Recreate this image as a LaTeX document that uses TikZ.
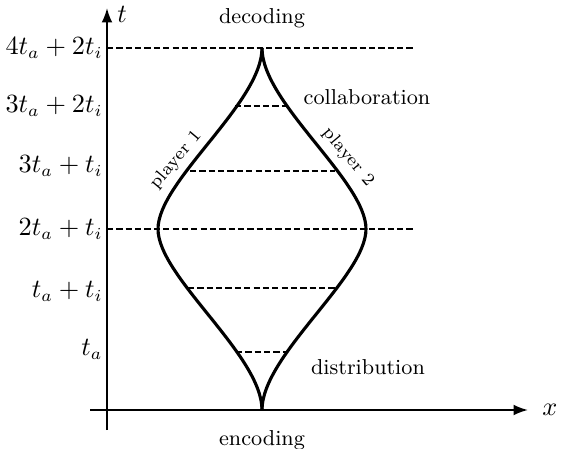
\documentclass[tikz,border=0pt]{standalone}
\usetikzlibrary{arrows.meta}
\begin{document}
\begin{tikzpicture}[x=0.4167pt,y=-0.4167pt,
  axis/.style={thick,-{Latex[length=6pt,width=4.5pt]}},
  curve/.style={line width=1.3pt},
  dsh/.style={line width=0.45pt,dash pattern=on 2.6pt off 1.3pt},
  lbl/.style={anchor=east,inner sep=0pt,font=\fontsize{10.5}{13}\selectfont},
  mth/.style={inner sep=0pt,font=\fontsize{10.8}{13}\selectfont},
  txt/.style={inner sep=0pt,font=\small},
  ply/.style={inner sep=0pt,font=\fontsize{7.4}{9}\selectfont}]
\useasboundingbox (0,0) rectangle (565,449);
% axes
\coordinate (yb) at (107,430);
\coordinate (yt) at (107,8);
\coordinate (xl) at (90,410);
\coordinate (xr) at (528,410);
\draw[axis] (yb) -- (yt);
\draw[axis] (xl) -- (xr);
\node[mth] (tl) at (122,14) {$t$};
\node[mth] (xlab) at (550,410) {$x$};
% key points
\coordinate (bot) at (262,410);
\coordinate (top) at (262,48);
\coordinate (L) at (158,229);
\coordinate (R) at (366,229);
% dashed lines
\coordinate (d1a) at (107,48); \coordinate (d1b) at (415,48);
\coordinate (d2a) at (235,106); \coordinate (d2b) at (290,106);
\coordinate (d3a) at (190,171); \coordinate (d3b) at (335,171);
\coordinate (d4a) at (107,229); \coordinate (d4b) at (415,229);
\coordinate (d5a) at (188,288); \coordinate (d5b) at (336,288);
\coordinate (d6a) at (236,352); \coordinate (d6b) at (288,352);
\draw[dsh] (d1a) -- (d1b);
\draw[dsh] (d2a) -- (d2b);
\draw[dsh] (d3a) -- (d3b);
\draw[dsh] (d4a) -- (d4b);
\draw[dsh] (d5a) -- (d5b);
\draw[dsh] (d6a) -- (d6b);
% curves
\draw[curve] (bot) .. controls (262,355) and (158,277) .. (L)
  .. controls (158,181) and (262,103) .. (top);
\draw[curve] (bot) .. controls (262,355) and (366,277) .. (R)
  .. controls (366,181) and (262,103) .. (top);
% axis labels
\node[lbl] (l1) at (103,48) {$4t_a+2t_i$};
\node[lbl] (l2) at (103,106) {$3t_a+2t_i$};
\node[lbl] (l3) at (103,166) {$3t_a+t_i$};
\node[lbl] (l4) at (103,229) {$2t_a+t_i$};
\node[lbl] (l5) at (103,291) {$t_a+t_i$};
\node[lbl] (l6) at (103,349) {$t_a$};
% texts
\node[txt] (dec) at (262,18) {decoding};
\node[txt] (enc) at (262,440) {encoding};
\node[txt] (col) at (367,97) {collaboration};
\node[txt] (dis) at (368,367) {distribution};
\node[ply,rotate=50] (p1) at (176,160) {player 1};
\node[ply,rotate=-50] (p2) at (348,157) {player 2};
\end{tikzpicture}
\end{document}
